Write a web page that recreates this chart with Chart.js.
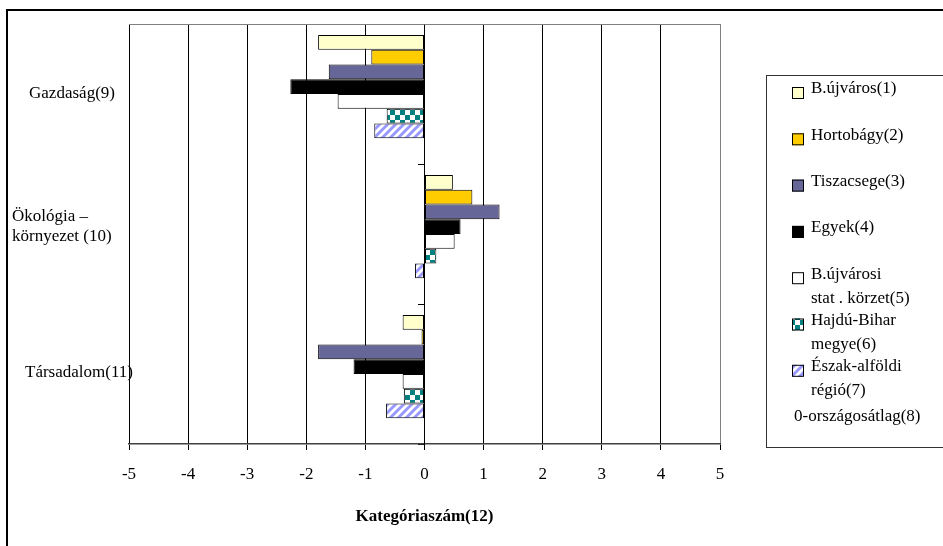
<!DOCTYPE html>
<html>
<head>
<meta charset="utf-8">
<script src="https://cdn.jsdelivr.net/npm/chart.js@4/dist/chart.umd.min.js"></script>
<style>
  html, body { margin: 0; padding: 0; background: #ffffff; overflow: hidden; }
  canvas { display: block; }
</style>
</head>
<body>
<canvas id="chart" width="943" height="546"></canvas>
<script>
// Categories (multi-line labels are arrays of lines)
const categories = [["Gazdaság(9)"], ["Ökológia –", "környezet (10)"], ["Társadalom(11)"]];

// Series names as shown in the key
const seriesLabels = [
  ["B.újváros(1)"],
  ["Hortobágy(2)"],
  ["Tiszacsege(3)"],
  ["Egyek(4)"],
  ["B.újvárosi", "stat . körzet(5)"],
  ["Hajdú-Bihar", "megye(6)"],
  ["Észak-alföldi", "régió(7)"],
  ["0-országosátlag(8)"]
];

// Values per category: Gazdaság, Ökológia – környezet, Társadalom
const bUjvaros        = [-1.80,  0.48, -0.37];
const hortobagy       = [-0.90,  0.81, -0.05];
const tiszacsege      = [-1.62,  1.27, -1.80];
const egyek           = [-2.27,  0.61, -1.20];
const bUjvarosiKorzet = [-1.47,  0.51, -0.37];
const hajduBihar      = [-0.64,  0.20, -0.35];
const eszakAlfold     = [-0.85, -0.16, -0.65];
const orszagosAtlag   = [0, 0, 0];

const axisMin = -5;
const axisMax = 5;
const axisTitle = "Kategóriaszám(12)";

const FONT = "'Liberation Serif', 'Times New Roman', serif";

// Fill patterns
function checkerPattern() {
  const c = document.createElement('canvas');
  c.width = 10; c.height = 10;
  const g = c.getContext('2d');
  g.fillStyle = '#ffffff';
  g.fillRect(0, 0, 10, 10);
  g.fillStyle = '#008080';
  g.fillRect(0, 0, 5, 5);
  g.fillRect(5, 5, 5, 5);
  return g.createPattern(c, 'repeat');
}
function stripePattern() {
  const c = document.createElement('canvas');
  c.width = 8; c.height = 8;
  const g = c.getContext('2d');
  g.fillStyle = '#ffffff';
  g.fillRect(0, 0, 8, 8);
  g.strokeStyle = '#9999ff';
  g.lineWidth = 3;
  g.beginPath();
  g.moveTo(-1, 9); g.lineTo(9, -1);
  g.moveTo(-5, 5); g.lineTo(5, -5);
  g.moveTo(3, 13); g.lineTo(13, 3);
  g.stroke();
  return g.createPattern(c, 'repeat');
}

const seriesValues = [bUjvaros, hortobagy, tiszacsege, egyek, bUjvarosiKorzet, hajduBihar, eszakAlfold, orszagosAtlag];
const seriesFills = ['#ffffcc', '#ffcc00', '#666699', '#000000', '#ffffff', checkerPattern(), stripePattern(), 'rgba(0,0,0,0)'];

const datasets = seriesValues.map((vals, i) => ({
  label: seriesLabels[i].join(' '),
  data: vals,
  backgroundColor: seriesFills[i],
  borderColor: '#000000',
  borderWidth: i === 7 ? 0 : 1,
  borderSkipped: false,
  categoryPercentage: 0.842,
  barPercentage: 1.0
}));

// Frame, category labels and key box
const decorations = {
  id: 'decorations',
  beforeDraw(chart) {
    const ctx = chart.ctx;
    ctx.save();
    ctx.fillStyle = '#ffffff';
    ctx.fillRect(0, 0, chart.width, chart.height);
    ctx.restore();
  },
  afterDraw(chart) {
    const { ctx, chartArea: a, scales } = chart;
    const y = scales.y;
    ctx.save();

    // outer chart frame
    ctx.strokeStyle = '#000000';
    ctx.lineWidth = 2;
    ctx.beginPath();
    ctx.moveTo(7, chart.height + 2);
    ctx.lineTo(7, 10);
    ctx.lineTo(chart.width + 2, 10);
    ctx.stroke();

    // plot area top edge
    ctx.strokeStyle = '#808080';
    ctx.lineWidth = 1;
    ctx.beginPath();
    ctx.moveTo(a.left, a.top + 0.5);
    ctx.lineTo(a.right, a.top + 0.5);
    ctx.stroke();

    // category labels
    ctx.fillStyle = '#000000';
    ctx.font = '17px ' + FONT;
    ctx.textBaseline = 'middle';
    const labelX = [72, 12, 79];
    const labelAlign = ['center', 'left', 'center'];
    const labelShift = [0, -7, -1];
    categories.forEach((lines, i) => {
      const cy = y.getPixelForValue(i) + labelShift[i];
      const lh = 20;
      ctx.textAlign = labelAlign[i];
      lines.forEach((t, k) => {
        ctx.fillText(t, labelX[i], cy - (lines.length - 1) * lh / 2 + k * lh);
      });
    });

    // key box
    ctx.strokeStyle = '#333333';
    ctx.lineWidth = 1;
    ctx.strokeRect(766.5, 75.5, 200, 372);
    ctx.textAlign = 'left';
    const y0 = 89, step = 46.3, lh2 = 24;
    chart.data.datasets.forEach((ds, i) => {
      const lines = seriesLabels[i];
      const ty = y0 + i * step + (i === 7 ? 3 : 0);
      if (i < 7) {
        ctx.fillStyle = ds.backgroundColor;
        ctx.fillRect(792, ty - 2, 12, 12);
        ctx.strokeStyle = '#000000';
        ctx.lineWidth = 1;
        ctx.strokeRect(792.5, ty - 1.5, 11, 11);
        ctx.fillStyle = '#000000';
        lines.forEach((t, k) => ctx.fillText(t, 811, ty + k * lh2));
      } else {
        ctx.fillStyle = '#000000';
        ctx.fillText(lines[0], 794, ty);
      }
    });
    ctx.restore();
  }
};

new Chart(document.getElementById('chart'), {
  type: 'bar',
  data: { labels: categories, datasets },
  plugins: [decorations],
  options: {
    indexAxis: 'y',
    responsive: false,
    animation: false,
    devicePixelRatio: 1,
    layout: { padding: { top: 24, left: 129, right: 223, bottom: 0 } },
    plugins: { legend: { display: false }, tooltip: { enabled: false }, title: { display: false } },
    scales: {
      x: {
        type: 'linear',
        min: axisMin,
        max: axisMax,
        ticks: { stepSize: 1, color: '#000000', font: { family: FONT, size: 17 }, padding: 14 },
        grid: {
          color: (c) => (c.tick && c.tick.value === axisMax ? '#808080' : '#000000'),
          lineWidth: 1,
          tickLength: 6,
          tickColor: '#000000'
        },
        border: { color: '#404040', width: 1.5 },
        title: {
          display: true,
          text: axisTitle,
          color: '#000000',
          font: { family: FONT, size: 17, weight: 'bold' },
          padding: { top: 0, bottom: 19 }
        },
        afterFit(scale) { scale.height = 102; }
      },
      y: {
        type: 'category',
        display: false,
        offset: true
      },
      y2: {
        type: 'category',
        axis: 'y',
        position: { x: 0 },
        offset: true,
        ticks: { display: false },
        grid: { drawOnChartArea: false, offset: true, tickLength: 6, color: '#000000' },
        border: { color: '#000000', width: 1 }
      }
    }
  }
});
</script>
</body>
</html>
